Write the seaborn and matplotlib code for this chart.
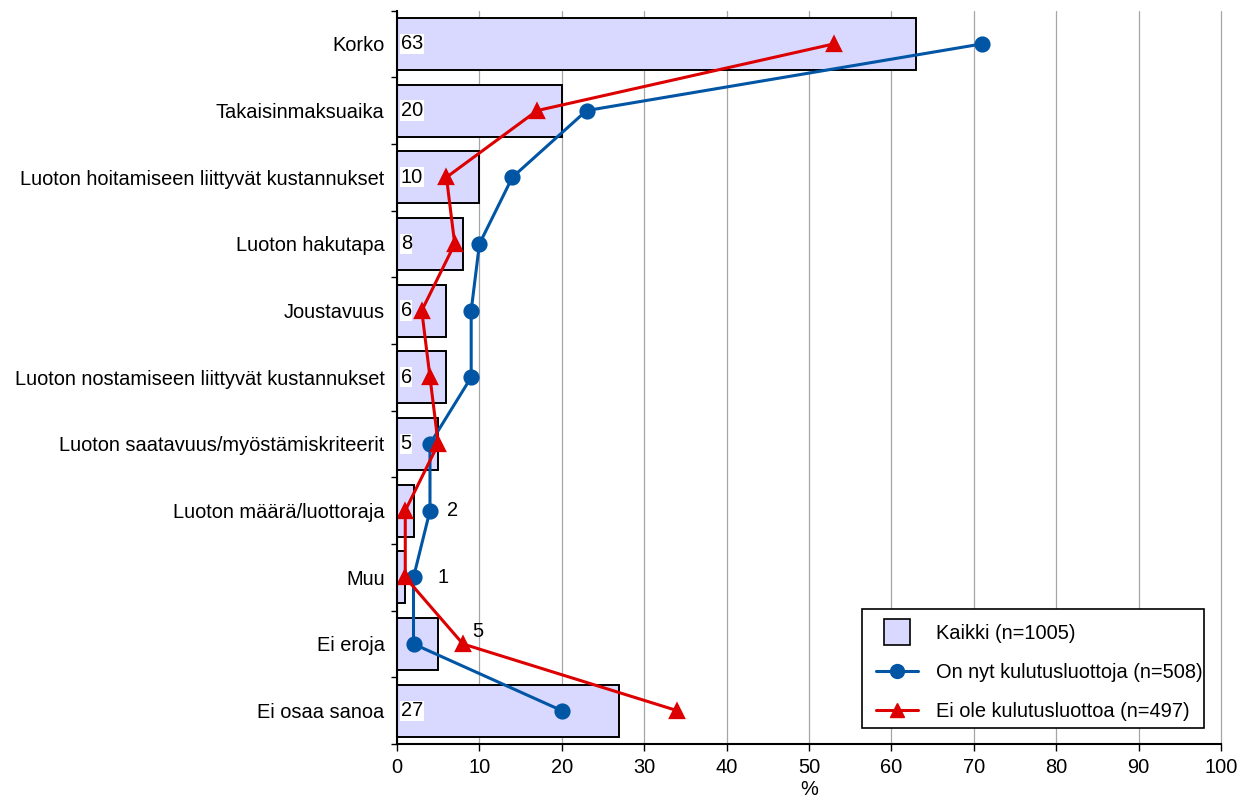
import numpy as np
import pandas as pd
import matplotlib
matplotlib.use("Agg")
import matplotlib.pyplot as plt
from matplotlib.lines import Line2D
from matplotlib.patches import Rectangle
import seaborn as sns

# Survey: which loan features matter when choosing consumer credit (%)
categories = [
    "Korko",
    "Takaisinmaksuaika",
    "Luoton hoitamiseen liittyvät kustannukset",
    "Luoton hakutapa",
    "Joustavuus",
    "Luoton nostamiseen liittyvät kustannukset",
    "Luoton saatavuus/myöstämiskriteerit",
    "Luoton määrä/luottoraja",
    "Muu",
    "Ei eroja",
    "Ei osaa sanoa",
]
kaikki = [63, 20, 10, 8, 6, 6, 5, 2, 1, 5, 27]
on_nyt = [71, 23, 14, 10, 9, 9, 4, 4, 2, 2, 20]
ei_ole = [53, 17, 6, 7, 3, 4, 5, 1, 1, 8, 34]

series_names = ["Kaikki (n=1005)", "On nyt kulutusluottoja (n=508)", "Ei ole kulutusluottoa (n=497)"]
x_ticks = list(range(0, 101, 10))

BAR_COLOR = "#D9D9FF"
BLUE = "#0055A5"
RED = "#DD0000"

sns.set_theme(style="white")
plt.rcParams["font.family"] = ["Liberation Sans", "DejaVu Sans"]
plt.rcParams["text.color"] = "black"
plt.rcParams["axes.labelcolor"] = "black"
plt.rcParams["xtick.color"] = "black"
plt.rcParams["ytick.color"] = "black"
FS = 14.4

df = pd.DataFrame({"cat": categories, "kaikki": kaikki, "on_nyt": on_nyt, "ei_ole": ei_ole})

fig = plt.figure(figsize=(12.45, 8.01), dpi=100)
ax = fig.add_axes([0.3189, 0.0712, 0.6618, 0.9156])

sns.barplot(data=df, x="kaikki", y="cat", orient="h", color=BAR_COLOR,
            edgecolor="black", linewidth=1.4, width=0.78, saturation=1, ax=ax, zorder=2)
sns.pointplot(data=df, x="on_nyt", y="cat", orient="h", color=BLUE, markers="o",
              markersize=10, linewidth=2.2, ax=ax)
sns.pointplot(data=df, x="ei_ole", y="cat", orient="h", color=RED, markers="^",
              markersize=10, linewidth=2.2, ax=ax)
for coll in ax.collections:
    coll.set_zorder(4)
for ln in ax.lines:
    ln.set_zorder(4)

# value labels of the "Kaikki" bars
for i, v in enumerate(kaikki):
    if v >= 5 and i != 9:
        ax.text(0.45, i, str(v), ha="left", va="center", fontsize=FS, zorder=5,
                bbox=dict(facecolor="white", edgecolor="none", pad=0.5))
ax.text(6.8, 7, str(kaikki[7]), ha="center", va="center", fontsize=FS, zorder=5)
ax.text(5.6, 8, str(kaikki[8]), ha="center", va="center", fontsize=FS, zorder=5)
ax.text(9.8, 8.82, str(kaikki[9]), ha="center", va="center", fontsize=FS, zorder=5)

ax.set_xlim(0, 100)
ax.set_ylim(len(categories) - 0.5, -0.5)
ax.set_xticks(x_ticks)
ax.set_xticklabels([str(t) for t in x_ticks], fontsize=FS)
ax.set_yticks(range(len(categories)))
ax.set_yticklabels(categories, fontsize=FS)
ax.set_yticks(np.arange(-0.5, len(categories), 1.0), minor=True)
ax.tick_params(axis="y", which="major", length=0, pad=9)
ax.tick_params(axis="y", which="minor", length=4, width=1, direction="out", left=True)
ax.tick_params(axis="x", which="major", length=5, width=1, direction="out", bottom=True, pad=5)
ax.set_ylabel("")
ax.set_xlabel("%", fontsize=FS, labelpad=2)

ax.grid(axis="x", color="#A6A6A6", linewidth=0.9, zorder=0)
ax.grid(axis="y", visible=False)
ax.set_axisbelow(True)
for gl in ax.get_xgridlines():
    gl.set_clip_on(False)
for s in ["top", "right"]:
    ax.spines[s].set_visible(False)
for s in ["left", "bottom"]:
    ax.spines[s].set_color("black")
    ax.spines[s].set_linewidth(1.5)
    ax.spines[s].set_zorder(6)

# legend: entries without frame, box drawn separately (text runs close to its right edge)
handles = [
    Line2D([], [], linestyle="none", marker="s", markersize=19, markerfacecolor=BAR_COLOR,
           markeredgecolor="black", markeredgewidth=1.2),
    Line2D([], [], color=BLUE, linewidth=2.2, marker="o", markersize=10),
    Line2D([], [], color=RED, linewidth=2.2, marker="^", markersize=10),
]
leg = ax.legend(handles, series_names, loc="center left", bbox_to_anchor=(0.5813, 0.098),
                fontsize=FS, frameon=False, handlelength=2.1, handletextpad=0.9,
                labelspacing=1.0, borderpad=0, borderaxespad=0)
leg.set_zorder(8)
ax.add_patch(Rectangle((0.5643, 0.0218), 0.4151, 0.1623, transform=ax.transAxes,
                       facecolor="white", edgecolor="black", linewidth=1.2, zorder=7,
                       clip_on=False))

fig.savefig("out.png", dpi=100)
